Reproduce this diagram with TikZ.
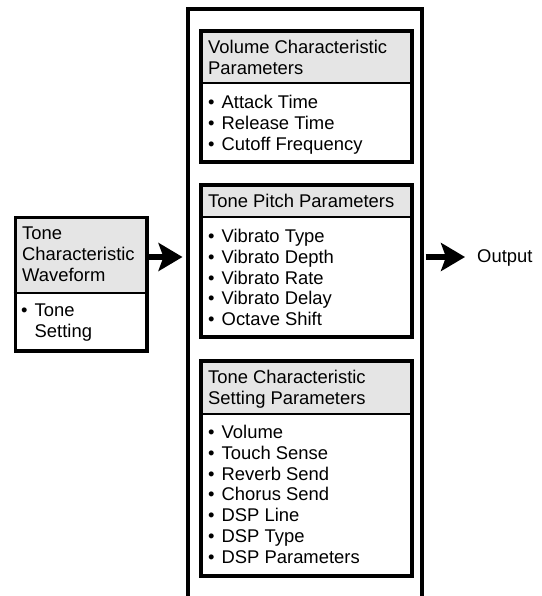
\documentclass[tikz,border=0pt]{standalone}
\usepackage{fontspec}
\setmainfont{Liberation Sans}
\usetikzlibrary{arrows.meta}
\newcommand{\bl}{\makebox[13.5pt][l]{\textbullet}}
\tikzset{
  txt/.style={font=\fontsize{18.4pt}{20.8pt}\selectfont, align=left, inner sep=0pt, anchor=north west},
  boxline/.style={line width=3.8pt},
  divline/.style={line width=2.2pt},
  bigarrow/.style={line width=6.5pt, -{Stealth[length=24pt, width=28pt, inset=5pt]}},
}
\begin{document}
\begin{tikzpicture}[x=1pt,y=-1pt]
\useasboundingbox (0,0) rectangle (541,596);
\clip (0,0) rectangle (541,596);
\fill[white] (0,0) rectangle (541,596);

% outer container (open at bottom, cut by the frame)
\node[draw, boxline, minimum width=234pt, minimum height=620pt, inner sep=0pt, anchor=north west] (outer) at (186,7) {};

% ---------- left box ----------
\fill[black!10] (13.5,215.5) rectangle (145,292.7);
\draw[divline] (13.5,292.7) -- (145,292.7);
\node[draw, boxline, minimum width=131.5pt, minimum height=133.5pt, inner sep=0pt, anchor=north west] (lbox) at (13.5,215.5) {};
\node[txt] (lhead) at (22,227) {Tone\\Characteristic\\Waveform};
\node[txt] (lbody) at (21,304) {\bl Tone\\\hphantom{\bl}Setting};

% ---------- box 1 ----------
\fill[black!10] (199,29) rectangle (410,83);
\draw[divline] (199,83) -- (410,83);
\node[draw, boxline, minimum width=211pt, minimum height=131pt, inner sep=0pt, anchor=north west] (b1) at (199,29) {};
\node[txt] (b1h) at (208,40) {Volume Characteristic\\Parameters};
\node[txt] (b1b) at (208,95) {\bl Attack Time\\\bl Release Time\\\bl Cutoff Frequency};

% ---------- box 2 ----------
\fill[black!10] (199,183) rectangle (410,217);
\draw[divline] (199,217) -- (410,217);
\node[draw, boxline, minimum width=211pt, minimum height=152pt, inner sep=0pt, anchor=north west] (b2) at (199,183) {};
\node[txt] (b2h) at (208,194) {Tone Pitch Parameters};
\node[txt] (b2b) at (208,229) {\bl Vibrato Type\\\bl Vibrato Depth\\\bl Vibrato Rate\\\bl Vibrato Delay\\\bl Octave Shift};

% ---------- box 3 ----------
\fill[black!10] (199,359) rectangle (410,414);
\draw[divline] (199,414) -- (410,414);
\node[draw, boxline, minimum width=211pt, minimum height=215pt, inner sep=0pt, anchor=north west] (b3) at (199,359) {};
\node[txt] (b3h) at (208,370) {Tone Characteristic\\Setting Parameters};
\node[txt] (b3b) at (208,425) {\bl Volume\\\bl Touch Sense\\\bl Reverb Send\\\bl Chorus Send\\\bl DSP Line\\\bl DSP Type\\\bl DSP Parameters};

% ---------- output ----------
\node[txt, anchor=west] (out) at (477,258) {Output};

% ---------- arrows ----------
\coordinate (ay) at (0,257);
\draw[bigarrow] (lbox.east |- ay) -- ([xshift=-3.5pt]outer.west |- ay);
\draw[bigarrow] ([xshift=1.9pt]outer.east |- ay) -- ([xshift=-12pt]out.west |- ay);
\end{tikzpicture}
\end{document}
